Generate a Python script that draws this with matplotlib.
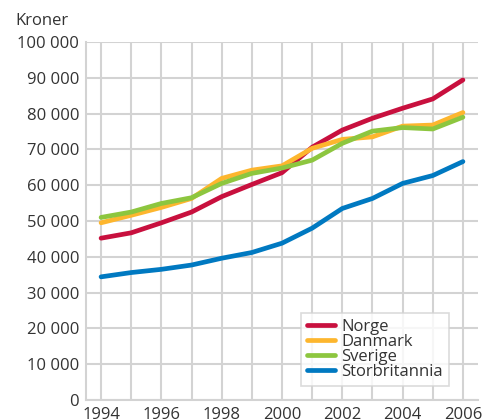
import matplotlib
matplotlib.use('Agg')
import matplotlib.pyplot as plt

plt.rcParams['font.family'] = ['Open Sans', 'DejaVu Sans']

years = list(range(1994, 2007))
norge = [45200, 46700, 49500, 52500, 56800, 60200, 63500, 70600, 75400, 78700, 81500, 84100, 89400]
danmark = [49500, 51600, 53800, 56300, 61900, 64200, 65400, 70300, 72800, 73500, 76500, 76800, 80300]
sverige = [51000, 52500, 54900, 56500, 60500, 63300, 64800, 67000, 71700, 75100, 76100, 75700, 79000]
storbritannia = [34400, 35600, 36500, 37700, 39600, 41200, 43800, 48000, 53500, 56300, 60500, 62700, 66600]

series = [('Norge', norge, '#C8103E'),
          ('Danmark', danmark, '#FDB62E'),
          ('Sverige', sverige, '#8DC63F'),
          ('Storbritannia', storbritannia, '#0079C1')]

txt = '#333333'
grid_c = '#D3D3D3'
fs = 12

fig = plt.figure(figsize=(4.93, 4.2), dpi=100)
ax = fig.add_axes([86/493, 1 - 400/420, (478 - 86)/493, (400 - 42)/420])

for name, vals, col in series:
    ax.plot(years, vals, color=col, linewidth=3.4, label=name, solid_capstyle='round')

ax.set_xlim(1993.5, 2006.5)
ax.set_ylim(0, 100000)
ax.set_xticks(range(1994, 2007, 2))
ax.set_xticks(range(1994, 2007), minor=True)
ax.set_yticks(range(0, 100001, 10000))
ax.set_yticklabels([f'{v:,}'.replace(',', ' ') for v in range(0, 100001, 10000)])

ax.grid(True, which='both', color=grid_c, linewidth=1.5)
ax.set_axisbelow(True)
for s in ['top', 'right']:
    ax.spines[s].set_visible(False)
for s in ['left', 'bottom']:
    ax.spines[s].set_color(grid_c)
    ax.spines[s].set_linewidth(1.5)
ax.tick_params(which='both', length=0, labelsize=fs, colors=txt, pad=5)
ax.tick_params(axis='x', pad=5)

fig.text(15/493, 1 - 21/420, 'Kroner', fontsize=fs, color=txt, va='center', ha='left')

leg = ax.legend(loc='lower right', bbox_to_anchor=(449/493, 1 - 386/420), bbox_transform=fig.transFigure,
                fontsize=fs, frameon=True, fancybox=False, handlelength=1.7,
                handletextpad=0.4, labelspacing=-0.05, borderpad=0.35, borderaxespad=0)
leg.get_frame().set_edgecolor(grid_c)
leg.get_frame().set_linewidth(1.2)
for t in leg.get_texts():
    t.set_color(txt)

fig.savefig('out.png', dpi=100)
